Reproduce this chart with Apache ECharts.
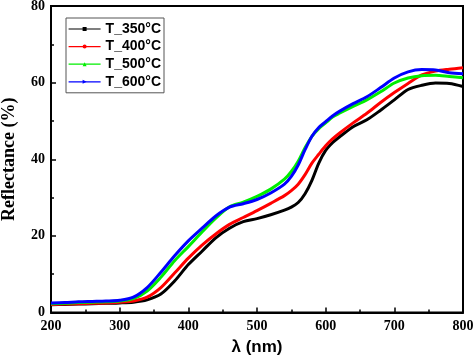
<!DOCTYPE html>
<html><head><meta charset="utf-8">
<script src="https://cdn.jsdelivr.net/npm/echarts@6/dist/echarts.min.js"></script>
<style>html,body{margin:0;padding:0;background:#fff}#c{width:474px;height:356px}</style>
</head><body><div id="c"></div>
<script>
const wavelengths = [200,220,240,260,280,300,320,340,360,380,400,420,440,460,480,500,520,540,550,560,570,580,590,600,610,620,640,660,680,700,720,740,760,780,800];
const seriesNames = ['T_350°C','T_400°C','T_500°C','T_600°C'];
const t350 = [2.0,2.1,2.2,2.3,2.4,2.5,2.7,3.3,4.8,8.2,12.5,16.0,19.5,22.0,23.7,24.5,25.5,26.7,27.5,28.7,31.0,34.5,39.0,42.3,44.3,45.8,48.5,50.3,52.8,55.5,58.2,59.3,59.9,59.8,59.0];
const t400 = [2.1,2.2,2.3,2.4,2.5,2.7,3.0,4.0,6.5,10.3,14.2,17.6,20.5,23.0,24.8,26.6,28.5,30.5,31.8,33.5,36.0,39.0,41.3,43.5,45.3,46.8,49.5,52.0,54.8,57.4,59.8,62.0,63.0,63.5,63.9];
const t500 = [2.3,2.4,2.6,2.7,2.8,3.0,3.6,5.6,9.2,13.5,17.2,21.0,24.6,27.6,28.8,30.3,32.2,34.8,36.8,39.5,43.0,46.0,48.0,49.5,51.0,52.0,53.8,55.5,57.6,59.9,61.2,61.8,61.9,61.6,61.3];
const t600 = [2.5,2.6,2.8,2.9,3.0,3.2,4.0,6.5,10.5,14.8,18.7,22.0,25.2,27.5,28.4,29.5,31.2,33.5,35.5,38.5,42.5,46.0,48.3,49.8,51.3,52.5,54.5,56.3,58.7,61.2,62.8,63.4,63.3,62.6,62.3];
const colors = ['#000000','#ff0000','#00ee00','#0000ff'];
const symbols = ['rect','circle','triangle','triangle'];
const rotates = [0,0,0,-90];
const allData = [t350,t400,t500,t600];

const serif = 'Liberation Serif';
const sans = 'Liberation Sans';
const chart = echarts.init(document.getElementById('c'), null, {renderer:'canvas'});
chart.setOption({
  animation:false,
  grid:{left:51,right:11,top:6,bottom:43.5,show:true,borderColor:'#000',borderWidth:2,outerBoundsMode:'none',containLabel:false},
  legend:{
    orient:'vertical',left:66,top:18,
    data:seriesNames,
    itemWidth:32,itemHeight:5,itemGap:3.6,
    padding:[4,3,4,2],
    borderColor:'#555',borderWidth:1,
    lineStyle:{width:1.2},
    textStyle:{fontFamily:sans,fontWeight:'bold',fontSize:14,color:'#000'}
  },
  xAxis:{
    type:'value',min:200,max:800,interval:100,
    name:'λ (nm)',nameLocation:'middle',nameGap:23,
    nameTextStyle:{fontFamily:sans,fontWeight:'bold',fontSize:17,color:'#000'},
    axisLine:{lineStyle:{color:'#000',width:2}},
    axisTick:{inside:true,length:5,lineStyle:{color:'#000',width:1.5}},
    minorTick:{show:true,splitNumber:2,length:3,lineStyle:{color:'#000',width:1.5}},
    splitLine:{show:false},
    axisLabel:{fontFamily:serif,fontWeight:'bold',fontSize:14,color:'#000',margin:7}
  },
  yAxis:{
    type:'value',min:0,max:80,interval:20,
    name:'Reflectance (%)',nameLocation:'middle',nameGap:33,
    nameTextStyle:{fontFamily:serif,fontWeight:'bold',fontSize:18,color:'#000'},
    axisLine:{lineStyle:{color:'#000',width:2}},
    axisTick:{inside:true,length:5,lineStyle:{color:'#000',width:1.5}},
    minorTick:{show:true,splitNumber:2,length:3,lineStyle:{color:'#000',width:1.5}},
    splitLine:{show:false},
    axisLabel:{fontFamily:serif,fontWeight:'bold',fontSize:14,color:'#000',margin:6}
  },
  series: allData.map((d,i)=>({
    name:seriesNames[i],type:'line',smooth:0.3,
    data:wavelengths.map((w,j)=>[w,d[j]]),
    showSymbol:false,symbol:symbols[i],symbolRotate:rotates[i],symbolSize:5,
    lineStyle:{color:colors[i],width:3},
    itemStyle:{color:colors[i]},
    z:2+i
  }))
});
</script></body></html>
